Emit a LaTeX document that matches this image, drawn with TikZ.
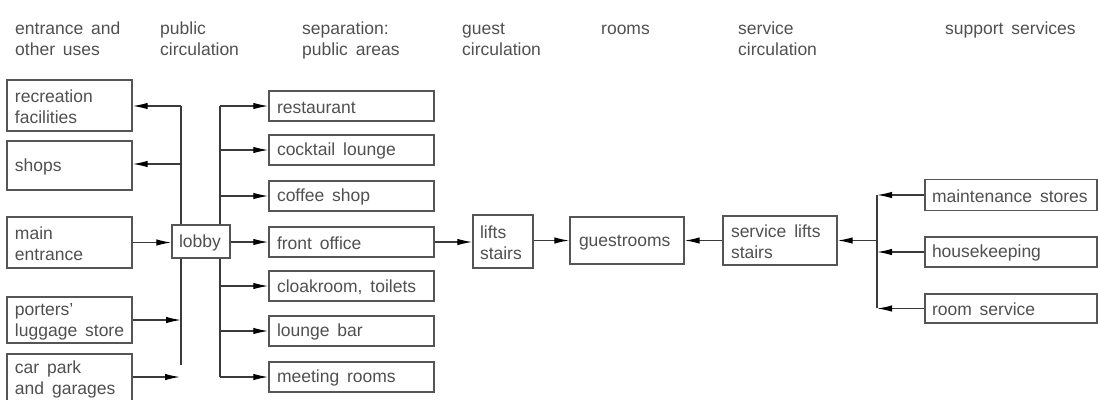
\documentclass[tikz,border=0pt]{standalone}
\usepackage{fontspec}
\setmainfont{Liberation Sans}
\usetikzlibrary{arrows.meta}
\definecolor{txtc}{HTML}{505050}
\definecolor{boxc}{HTML}{555555}
\definecolor{linec}{HTML}{3A3A3A}
\newcommand\dgfont{\fontsize{17.5bp}{21bp}\selectfont}
\newcommand\sa{\rule{0pt}{15bp}}
\newcommand\ws{\kern0.45em}
\begin{document}
\begin{tikzpicture}[x=1bp,y=-1bp,
  hd/.style={font=\dgfont, text=txtc, align=left, anchor=north west, inner sep=0pt},
  bx/.style={draw=boxc, line width=1.4bp, fill=white, inner xsep=8bp, inner ysep=0pt,
             align=left, font=\dgfont, text=txtc},
  lbx/.style={bx, minimum width=125bp, text width=109bp},
  pbx/.style={bx, minimum width=165bp, text width=149bp, minimum height=30bp},
  rbx/.style={bx, minimum width=172bp, text width=158bp, inner xsep=7bp},
  ln/.style={draw=linec, line width=1.3bp},
  arr/.style={ln, -{Latex[length=15bp,width=6.5bp,color=black]}}]
\useasboundingbox (0,0) rectangle (1098,399);

% headers
\node[hd] (h1) at (15,19) {\sa entrance\ws and\\other\ws uses};
\node[hd] (h2) at (160,19) {\sa public\\circulation};
\node[hd] (h3) at (302,19) {\sa separation:\\public\ws areas};
\node[hd] (h4) at (462,19) {\sa guest\\circulation};
\node[hd] (h5) at (601,19) {\sa rooms};
\node[hd] (h6) at (738,19) {\sa service\\circulation};
\node[hd] (h7) at (945,19) {\sa support\ws services};

% trunk coordinates
\coordinate (La) at (181,106);
\coordinate (Lb) at (181,365);
\coordinate (Ls) at (181,164);
\coordinate (Lc) at (180,377);
\coordinate (Ra) at (220,106);
\coordinate (Rb) at (220,377);
\coordinate (Sa) at (877,195);
\coordinate (Sb) at (877,308);
\coordinate (Sm) at (877,240.5);

\draw[ln] (La) -- (Lb);
\draw[ln] (Ra) -- (Rb);
\draw[ln] (Sa) -- (Sb);

% left column
\node[lbx, minimum height=51bp] (rec) at (69.5,105.5) {\sa recreation\\facilities};
\node[lbx, minimum height=49bp] (shops) at (69.5,165.5) {\sa shops};
\node[lbx, minimum height=51bp] (main) at (69.5,242.5) {\sa main\\entrance};
\node[lbx, minimum height=46bp] (port) at (69.5,320) {\sa porters'\\luggage\ws store};
\node[lbx, minimum height=60bp] (car) at (69.5,384) {\sa car\ws park\\and\ws garages\rule[-16bp]{0pt}{16bp}};

% lobby
\node[bx, minimum width=58bp, text width=44bp, inner xsep=7bp, minimum height=33bp] (lobby) at (201,241.5) {\sa lobby};

% public areas
\node[pbx] (rest) at (351.5,106) {\sa restaurant};
\node[pbx] (cock) at (351.5,150) {\sa cocktail\ws lounge};
\node[pbx] (coff) at (351.5,196) {\sa coffee\ws shop};
\node[pbx] (front) at (351.5,242) {\sa front\ws office};
\node[pbx] (cloak) at (351.5,286) {\sa cloakroom,\ws toilets};
\node[pbx] (lounge) at (351.5,331) {\sa lounge\ws bar};
\node[pbx] (meet) at (351.5,377) {\sa meeting\ws rooms};

% circulation and rooms
\node[bx, minimum width=60bp, text width=46bp, inner xsep=7bp, minimum height=53bp] (lifts) at (503,241.5) {\sa lifts\\stairs};
\node[bx, minimum width=114bp, text width=96bp, inner xsep=9bp, minimum height=47bp] (guest) at (627,240.5) {\sa guestrooms};
\node[bx, minimum width=114bp, text width=98bp, minimum height=49bp] (svc) at (780,240.5) {\sa service\ws lifts\\stairs};

% support services
\node[rbx, minimum height=31bp] (maint) at (1011,195) {\sa maintenance\ws stores};
\node[rbx, minimum height=30bp] (house) at (1011,252) {\sa housekeeping};
\node[rbx, minimum height=29bp] (room) at (1011,308.5) {\sa room\ws service};

% connectors, left side
\draw[arr] (La) -- (La -| rec.east);
\draw[arr] (Ls) -- (Ls -| shops.east);
\draw[arr] (main.east) -- (main.east -| lobby.west);
\draw[arr] (port.east) -- (port.east -| La);
\draw[arr] (Lc -| car.east) -- (Lc);

% connectors to public areas
\draw[arr] (Ra |- rest.west) -- (rest.west);
\draw[arr] (Ra |- cock.west) -- (cock.west);
\draw[arr] (Ra |- coff.west) -- (coff.west);
\draw[arr] (lobby.east |- front.west) -- (front.west);
\draw[arr] (Ra |- cloak.west) -- (cloak.west);
\draw[arr] (Ra |- lounge.west) -- (lounge.west);
\draw[arr] (Ra |- meet.west) -- (meet.west);

% main chain
\draw[arr] (front.east) -- (front.east -| lifts.west);
\draw[arr] (lifts.east |- guest.west) -- (guest.west);
\draw[arr] (svc.west) -- (svc.west -| guest.east);
\draw[arr] (Sm) -- (Sm -| svc.east);

% support services
\draw[arr] (maint.west) -- (maint.west -| Sa);
\draw[arr] (house.west) -- (house.west -| Sa);
\draw[arr] (room.west) -- (room.west -| Sa);
\end{tikzpicture}
\end{document}
